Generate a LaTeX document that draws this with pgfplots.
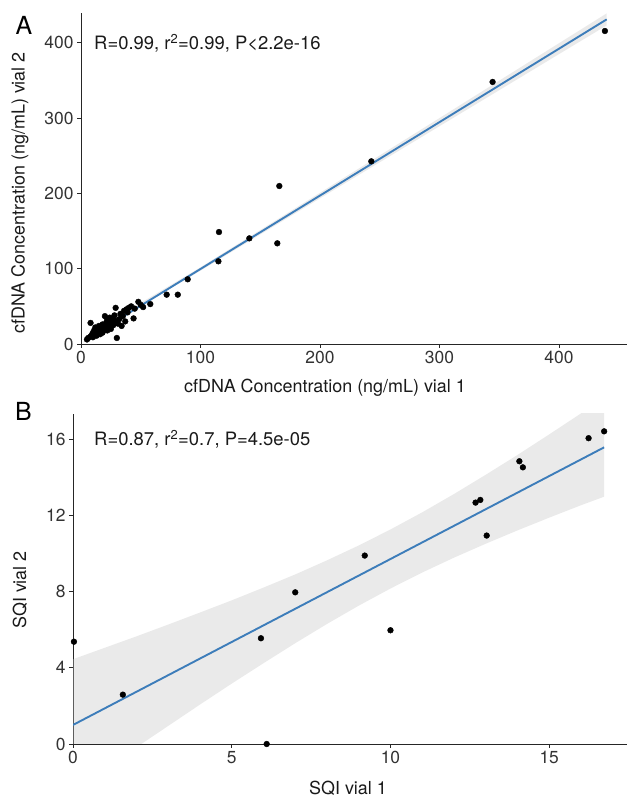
\documentclass[border=0pt]{standalone}
\usepackage{fontspec}
\setmainfont{TeX Gyre Heros}
\usepackage{pgfplots}
\pgfplotsset{compat=1.18}
\definecolor{fitblue}{HTML}{3D7DBA}
\definecolor{ticktxt}{HTML}{333333}
\definecolor{labtxt}{HTML}{1A1A1A}

\pgfplotsset{
  panel/.style={
    scale only axis,
    anchor=south west,
    axis x line*=bottom,
    axis y line*=left,
    axis line style={-, draw=black!85, line width=0.9bp},
    tick style={draw=black!85, line width=0.8bp},
    tick align=outside,
    major tick length=4bp,
    tick label style={font=\fontsize{17.5}{19}\selectfont, text=ticktxt},
    /pgf/number format/assume math mode=true,
    clip mode=global,
  },
  pts/.style={only marks, mark=*, mark size=2.9bp, draw=black, fill=black},
  band/.style={draw=none, fill=black!23, fill opacity=0.35},
  fit/.style={fitblue, line width=1.9bp},
}

% panel A: cfDNA vial 1 vs vial 2
\pgfplotstableread{
x y
5 6
6 8
8 10
8 28
9 12
10 15
10 9
11 18
12 14
12 22
13 11
14 20
15 17
15 24
16 13
17 21
18 26
18 15
19 19
20 37
20 24
21 28
22 18
22 32
23 22
24 35
24 27
25 20
26 30
27 34
27 25
28 38
29 48
30 8
30 30
31 27
32 33
33 40
34 24
35 37
36 44
37 30
38 46
39 42
40 48
42 50
44 34
45 47
48 56
50 52
52 49
58 53
71.7 65.5
81 65.5
89.3 85.9
115 109.8
115.5 148.7
140.9 140.3
164.3 133.7
166 209.8
243 242.6
344.5 348
438.5 415.7
}\dataA

% confidence band A (upper edge, then lower edge back)
\pgfplotstableread{
x y
5 9.1
40 45.1
100 101.9
150 151.3
200 200.8
250 250.4
300 300.0
350 349.7
400 399.4
440 439.1
440 423.1
400 384.9
350 337.0
300 289.2
250 241.3
200 193.4
150 145.4
100 97.3
40 41.1
5 4.9
}\bandA

% panel B: SQI vial 1 vs vial 2
\pgfplotstableread{
x y
16.73 16.41
16.24 16.05
14.06 14.84
14.17 14.52
12.68 12.67
12.83 12.81
13.03 10.94
9.19 9.89
10.0 5.97
7.0 7.96
5.92 5.55
1.57 2.59
0.03 5.37
6.1 0.0
}\dataB

\pgfplotstableread{
x y
0 4.45
1 5.05
2 5.65
3 6.27
4 6.90
5 7.54
6 8.21
7 8.90
8 9.64
9 10.42
10 11.26
11 12.16
12 13.12
13 14.13
14 15.17
15 16.25
16 17.35
16.73 18.16
16.73 12.98
16 12.53
15 11.88
14 11.21
13 10.51
12 9.78
11 9.00
10 8.16
9 7.26
8 6.30
7 5.29
6 4.24
5 3.17
4 2.07
3 0.95
2 -0.17
1 -1.31
0 -2.45
}\bandB

\begin{document}
\begin{tikzpicture}
\useasboundingbox (0,0) rectangle (628bp,797bp);

\begin{axis}[panel,
  at={(81bp,453bp)}, width=546bp, height=331bp,
  xmin=0, xmax=457, ymin=0, ymax=439.6,
  xtick={0,100,200,300,400}, ytick={0,100,200,300,400},
]
\addplot[pts] table {\dataA};
\addplot[band] table {\bandA};
\addplot[fit] coordinates {(5,6.98) (440,431.1)};
\end{axis}

\begin{axis}[panel,
  at={(73bp,53bp)}, width=554bp, height=330bp,
  xmin=0, xmax=17.45, ymin=0, ymax=17.32,
  xtick={0,5,10,15}, ytick={0,4,8,12,16},
]
\addplot[pts] table {\dataB};
\addplot[band] table {\bandB};
\addplot[fit] coordinates {(0,1.0) (16.73,15.57)};
\end{axis}

\begin{scope}[every node/.style={inner sep=0pt, text=labtxt, font=\fontsize{18}{20}\selectfont}]
\node[font=\fontsize{25}{27}\selectfont, text=black] at (24bp,772bp) {A};
\node[anchor=base west, font=\fontsize{18.5}{20}\selectfont] at (94bp,747bp) {R=0.99, r\textsuperscript{2}=0.99, P<2.2e-16};
\node[rotate=90] at (20bp,604bp) {cfDNA Concentration (ng/mL) vial 2};
\node[anchor=base] at (325bp,404bp) {cfDNA Concentration (ng/mL) vial 1};

\node[font=\fontsize{25}{27}\selectfont, text=black] at (23.5bp,386bp) {B};
\node[anchor=base west, font=\fontsize{18.5}{20}\selectfont] at (94bp,351bp) {R=0.87, r\textsuperscript{2}=0.7, P=4.5e-05};
\node[rotate=90] at (20bp,207bp) {SQI vial 2};
\node[anchor=base] at (348bp,3bp) {SQI vial 1};
\end{scope}
\end{tikzpicture}
\end{document}
